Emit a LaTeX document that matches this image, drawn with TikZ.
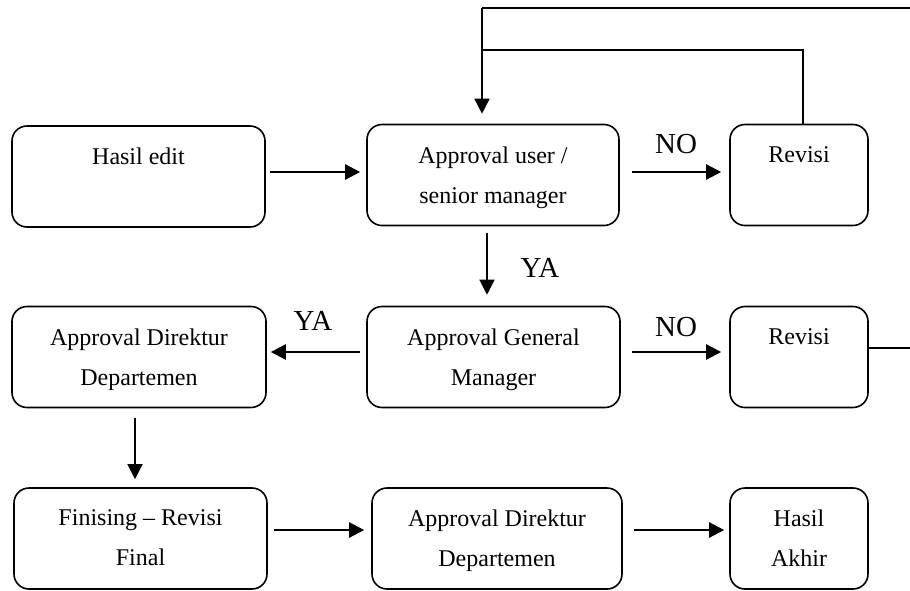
\documentclass[tikz,border=0pt]{standalone}
\usepackage{fontspec}
\setmainfont{Liberation Serif}
\usetikzlibrary{arrows.meta,calc}
\begin{document}
\begin{tikzpicture}[x=1pt,y=-1pt,
  box/.style={draw, line width=1.6pt, rounded corners=15pt, minimum height=101pt, inner sep=0pt},
  txt/.style={anchor=north, yshift=-22.5pt, inner sep=0pt, align=center, font=\fontsize{24}{40}\selectfont},
  arr/.style={line width=2.4pt, -{Triangle[length=15pt,width=15pt]}},
  varr/.style={line width=1.3pt, -{Triangle[length=15pt,width=15pt]}},
  ln/.style={line width=1.6pt},
  lab/.style={inner sep=0pt, font=\fontsize{29}{32}\selectfont}]
\useasboundingbox (0,0) rectangle (910,590);
% row 1
\node[box, minimum width=253pt, label={[txt]north:{Hasil edit}}] (b1) at (138.5,176.5) {};
\node[box, minimum width=252pt, label={[txt]north:{Approval user /\\senior manager}}] (b2) at (493,175) {};
\node[box, minimum width=138pt, label={[txt]north:{Revisi}}] (r1) at (799,175) {};
% row 2
\node[box, minimum width=254pt, label={[txt]north:{Approval Direktur\\Departemen}}] (b4) at (139,357) {};
\node[box, minimum width=253pt, label={[txt]north:{Approval General\\Manager}}] (b5) at (493.5,357) {};
\node[box, minimum width=138pt, label={[txt]north:{Revisi}}] (r2) at (799,357) {};
% row 3
\node[box, minimum width=253pt, label={[txt]north:{Finising -- Revisi\\Final}}] (b6) at (140.5,538.5) {};
\node[box, minimum width=250pt, label={[txt]north:{Approval Direktur\\Departemen}}] (b7) at (497,538.5) {};
\node[box, minimum width=138pt, label={[txt]north:{Hasil\\Akhir}}] (b8) at (799,538.5) {};
% labels
\node[lab] (no1) at (676,144) {NO};
\node[lab] (ya1) at (540,268) {YA};
\node[lab] (ya2) at (313,321) {YA};
\node[lab] (no2) at (676,327) {NO};
% coordinates
\coordinate (tp) at (482,8);
\coordinate (ext) at (910,8);
\coordinate (ext2) at (910,348);
\coordinate (mid) at (482,50);
% connectors
\draw[arr, shorten <=4pt, shorten >=6pt] ([yshift=4.5pt]b1.east) -- ([yshift=3pt]b2.west);
\draw[arr, shorten <=12pt, shorten >=8pt] ([yshift=3pt]b2.east) -- ([yshift=3pt]r1.west);
\draw[ln] ([xshift=4pt]r1.north) |- (mid);
\draw[ln] (ext) -- (tp);
\draw[ln, -{Triangle[length=15pt,width=15pt]}, shorten >=10pt] (tp) -- ([xshift=-11pt]b2.north);
\draw[varr, shorten <=7pt, shorten >=11pt] ([xshift=-6pt]b2.south) -- ([xshift=-6.5pt]b5.north);
\draw[arr, shorten <=6pt, shorten >=4pt] ([yshift=5pt]b5.west) -- ([yshift=5pt]b4.east);
\draw[arr, shorten <=11pt, shorten >=8pt] ([yshift=5pt]b5.east) -- ([yshift=5pt]r2.west);
\draw[ln] ([yshift=9pt]r2.east) -- (ext2);
\draw[varr, shorten <=10pt, shorten >=8pt] ([xshift=-4pt]b4.south) -- ([xshift=-5.5pt]b6.north);
\draw[arr, shorten <=6pt, shorten >=7pt] ([yshift=8.5pt]b6.east) -- ([yshift=8.5pt]b7.west);
\draw[arr, shorten <=11pt, shorten >=5pt] ([yshift=8.5pt]b7.east) -- ([yshift=8.5pt]b8.west);
\end{tikzpicture}
\end{document}
